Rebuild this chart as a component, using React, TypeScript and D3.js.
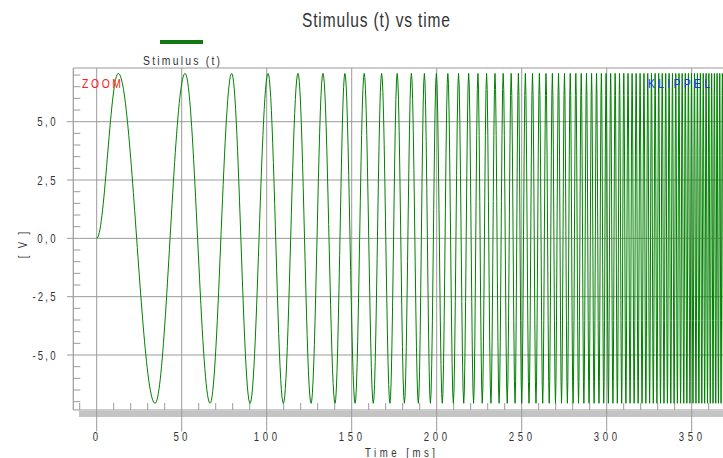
import React from "react";
import * as d3 from "d3";

// ---- data ----
const amplitudeV = 7.07;
// measured peak times (ms) of the readable low-frequency part
const peakTimesMs = [12.7, 52, 79.4, 100.8, 118.4, 133.1, 146];
// measured trough times (ms)
const troughTimesMs = [
  34.3, 66.7, 90.2, 109.8, 126.1, 140.2, 152, 162.7, 172.5, 181, 189.2, 196.3,
  203.3, 209.8, 215.9, 221.7, 226.8, 231.9, 236.7, 241.5, 246.1, 250, 254.3, 258.4,
];
// sweep frequency estimated for the dense part (ms -> Hz)
const sweepTimesMs = [258.4, 300, 340, 380];
const sweepFreqHz = [250, 370, 520, 720];

const xTickValues = [0, 50, 100, 150, 200, 250, 300, 350];
const yTickValues = [-5, -2.5, 0, 2.5, 5];

const W = 723;
const H = 458;
const FONT = "'Liberation Sans', Arial, sans-serif";

function buildExtrema(tMax: number) {
  const ext: { t: number; v: number }[] = [{ t: 0, v: 0 }];
  const lastPeak = peakTimesMs[peakTimesMs.length - 1];
  const extraPeaks: number[] = [];
  for (let i = 0; i < troughTimesMs.length - 1; i++) {
    const a = troughTimesMs[i];
    const b = troughTimesMs[i + 1];
    if (a >= lastPeak) extraPeaks.push((a + b) / 2);
  }
  peakTimesMs.concat(extraPeaks).forEach((t) => ext.push({ t, v: amplitudeV }));
  troughTimesMs.forEach((t) => ext.push({ t, v: -amplitudeV }));
  ext.sort((a, b) => a.t - b.t);
  const logF = d3
    .scaleLinear()
    .domain(sweepTimesMs)
    .range(sweepFreqHz.map((f) => Math.log(f)))
    .clamp(true);
  let t = troughTimesMs[troughTimesMs.length - 1];
  let sign = 1;
  while (t < tMax) {
    const f = Math.exp(logF(t));
    t += 500 / f;
    ext.push({ t, v: sign * amplitudeV });
    sign = -sign;
  }
  return ext;
}

type NTProps = {
  x: number;
  y: number;
  width: number;
  size: number;
  fill: string;
  anchor?: "start" | "middle" | "end";
  rotate?: boolean;
  sx?: number;
  children: string;
};

function NarrowText({ x, y, width, size, fill, anchor = "start", rotate = false, sx = 0.8, children }: NTProps) {
  return (
    <text
      transform={`translate(${x},${y})${rotate ? " rotate(-90)" : ""} scale(${sx},1)`}
      textAnchor={anchor}
      fontSize={size}
      fill={fill}
      textLength={width / sx}
      lengthAdjust="spacing"
    >
      {children}
    </text>
  );
}

export default function App() {
  const x = d3.scaleLinear().domain([0, 350]).range([96.7, 691.7]);
  const y = d3.scaleLinear().domain([-5, 5]).range([355, 121.7]);
  const left = 73.3;
  const top = 68;
  const bottom = 410;
  const tMax = x.invert(W + 5);

  const ext = buildExtrema(tMax);
  const pts: [number, number][] = [];
  for (let i = 0; i < ext.length - 1; i++) {
    const a = ext[i];
    const b = ext[i + 1];
    const n = Math.max(6, Math.ceil((x(b.t) - x(a.t)) * 1.5));
    for (let k = i === 0 ? 0 : 1; k <= n; k++) {
      const u = k / n;
      const tt = a.t + (b.t - a.t) * u;
      const vv = a.v + (b.v - a.v) * (1 - Math.cos(Math.PI * u)) / 2;
      pts.push([tt, vv]);
    }
  }
  const line = d3
    .line<[number, number]>()
    .x((d) => x(d[0]))
    .y((d) => y(d[1]));

  const gridColor = "#9a9a9a";
  const textColor = "#333";
  const fmt = (v: number) => d3.format(".1f")(v).replace(".", ",").replace("−", "-");

  const minorY: number[] = [];
  for (let v = -7; v <= 7.001; v += 0.5) {
    if (Math.abs(v / 2.5 - Math.round(v / 2.5)) > 1e-6) minorY.push(v);
  }
  const minorX: number[] = [];
  for (let t = -10; t <= 370; t += 10) {
    if (t % 50 !== 0) minorX.push(t);
  }

  const xLabelWidth = (s: string) => (s.length === 1 ? 5.6 : s.length === 2 ? 14 : 23.2);

  return (
    <svg
      width={W}
      height={H}
      style={{ position: "absolute", left: 0, top: 0, background: "#fff" }}
      fontFamily={FONT}
    >
      <defs>
        <clipPath id="plotClip">
          <rect x={left} y={top} width={W - left + 10} height={bottom - top} />
        </clipPath>
      </defs>
      {/* title */}
      <NarrowText x={376} y={27} anchor="middle" size={21} fill={textColor} width={148} sx={0.74}>
        Stimulus (t) vs time
      </NarrowText>
      {/* legend */}
      <line x1={160} x2={203} y1={42} y2={42} stroke="#137813" strokeWidth={4} />
      <NarrowText x={181.5} y={65} anchor="middle" size={13} fill={textColor} width={77}>
        Stimulus (t)
      </NarrowText>

      {/* gray band below axis */}
      <rect x={79} y={411} width={W} height={6} fill="#c4c4c4" />

      {/* horizontal grid */}
      {yTickValues.map((v) => (
        <line key={"gy" + v} x1={67} x2={W} y1={y(v)} y2={y(v)} stroke={gridColor} strokeWidth={1} />
      ))}
      {/* vertical grid */}
      {xTickValues.map((t) => (
        <line key={"gx" + t} x1={x(t)} x2={x(t)} y1={top} y2={431.5} stroke={gridColor} strokeWidth={1} />
      ))}
      {/* minor ticks */}
      {minorY.map((v) => (
        <line key={"my" + v} x1={left} x2={left + 7} y1={y(v)} y2={y(v)} stroke={gridColor} strokeWidth={1} />
      ))}
      {minorX.map((t) => (
        <line key={"mx" + t} x1={x(t)} x2={x(t)} y1={bottom - 7} y2={bottom} stroke={gridColor} strokeWidth={1} />
      ))}
      {/* frame */}
      <line x1={left} x2={W} y1={top} y2={top} stroke={gridColor} strokeWidth={1.2} />
      <line x1={left} x2={left} y1={top} y2={bottom} stroke={gridColor} strokeWidth={1.2} />
      <line x1={left} x2={W} y1={bottom} y2={bottom} stroke={gridColor} strokeWidth={1.2} />

      {/* curve */}
      <path d={line(pts) || ""} fill="none" stroke="#008000" strokeWidth={1} clipPath="url(#plotClip)" />

      {/* annotations */}
      <NarrowText x={82} y={87.5} size={13} fill="#ff2020" width={39}>
        ZOOM
      </NarrowText>
      <NarrowText x={648} y={87.5} size={13} fill="#2030ff" width={62}>
        KLIPPEL
      </NarrowText>

      {/* y tick labels */}
      {yTickValues.map((v) => (
        <NarrowText key={"ly" + v} x={55.5} y={y(v) + 4.5} anchor="end" size={12} fill={textColor} width={v < 0 ? 23 : 18.3}>
          {fmt(v)}
        </NarrowText>
      ))}
      {/* x tick labels */}
      {xTickValues.map((t) => (
        <NarrowText
          key={"lx" + t}
          x={x(t) - 1.3}
          y={440.5}
          anchor="middle"
          size={12}
          fill={textColor}
          width={xLabelWidth(String(t))}
        >
          {String(t)}
        </NarrowText>
      ))}
      {/* axis titles */}
      <NarrowText x={400} y={456.5} anchor="middle" size={12} fill={textColor} width={70}>
        Time [ms]
      </NarrowText>
      <NarrowText x={26.5} y={245} anchor="middle" size={12} fill={textColor} width={26.6} rotate>
        [ V ]
      </NarrowText>
    </svg>
  );
}
